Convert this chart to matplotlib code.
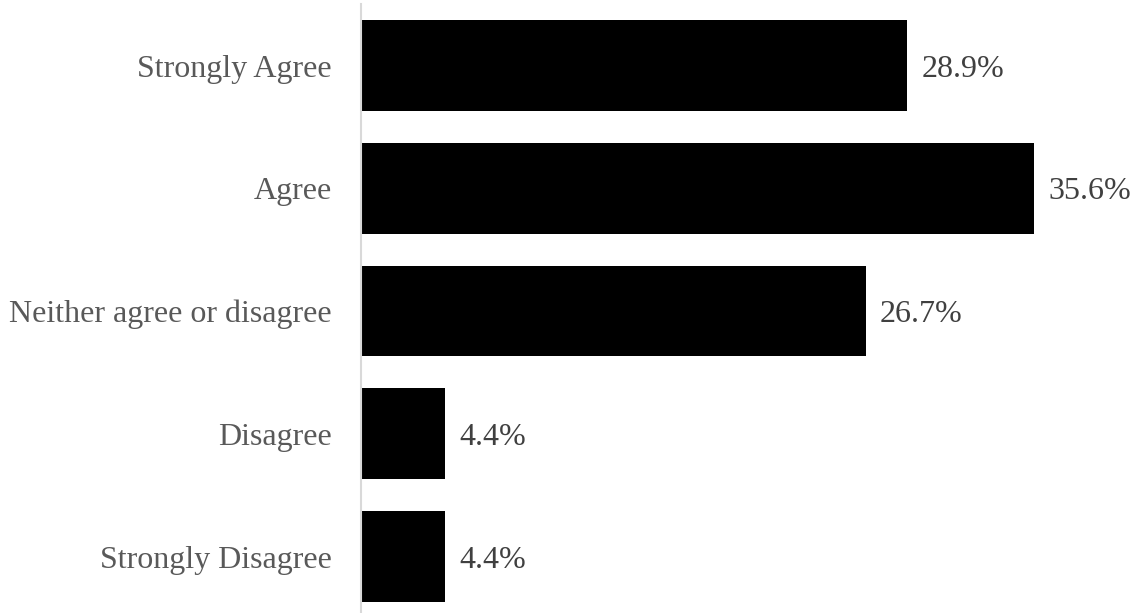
import matplotlib
matplotlib.use("Agg")
import matplotlib.pyplot as plt

# survey responses, top to bottom
categories = ["Strongly Agree", "Agree", "Neither agree or disagree",
              "Disagree", "Strongly Disagree"]
percents = [28.9, 35.6, 26.7, 4.4, 4.4]

plt.rcParams['font.family'] = ['Liberation Serif', 'DejaVu Serif']

W, H = 1139, 613
fig = plt.figure(figsize=(W / 100, H / 100), dpi=100)
ax = fig.add_axes([361 / W, (613 - 617.9) / H, 755 / W, 613.75 / H])

ypos = list(range(len(categories)))
ax.barh(ypos, percents, height=0.74, color="black", left=0.05)
ax.set_ylim(4.5, -0.5)
ax.set_xlim(0, 40)

for y, v in zip(ypos, percents):
    ax.text(v + 0.05 + 0.75, y, f"{v}%", va="center_baseline", ha="left",
            fontsize=23, color="#404040")

ax.set_yticks(ypos)
ax.set_yticklabels(categories, fontsize=23, color="#595959",
                   va="center_baseline")
ax.tick_params(axis="y", length=0, pad=21)
ax.set_xticks([])
for s in ["top", "right", "bottom"]:
    ax.spines[s].set_visible(False)
ax.spines["left"].set_color("#d9d9d9")
ax.spines["left"].set_linewidth(1.5)

fig.savefig("out.png", dpi=100)
